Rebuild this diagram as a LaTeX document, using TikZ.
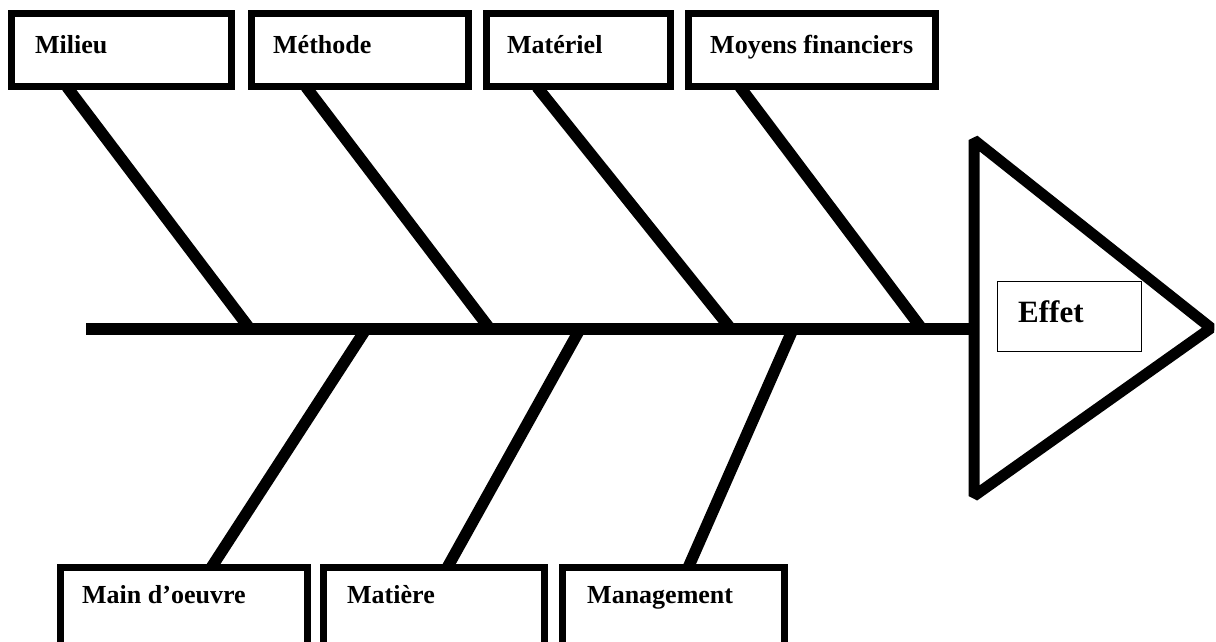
\documentclass[tikz,border=0pt]{standalone}
\usepackage{fontspec}
\setmainfont{Liberation Serif}
\begin{document}
\begin{tikzpicture}[x=1pt,y=-1pt,
  catbox/.style={draw=black, line width=7pt, rectangle, inner sep=0pt, fill=white},
  effbox/.style={draw=black, line width=1.3pt, rectangle, inner sep=0pt, fill=white},
  lbl/.style={anchor=base west, inner sep=0pt, font=\bfseries\fontsize{26}{30}\selectfont},
  efflbl/.style={anchor=base west, inner sep=0pt, font=\bfseries\fontsize{31}{36}\selectfont},
  bone/.style={line width=11.5pt, line cap=butt},
  spineline/.style={line width=12pt, line cap=butt},
  headline/.style={line width=11pt, line cap=butt, line join=bevel}]
\useasboundingbox (0,0) rectangle (1216,641);
\clip (0,0) rectangle (1216,641);
\fill[white] (0,0) rectangle (1216,641);

% spine and head
\coordinate (tail) at (86,329);
\coordinate (headbase) at (974,329);
\coordinate (htop) at (974,140);
\coordinate (hbot) at (974,496);
\coordinate (apex) at (1211,328);
\draw[spineline] (tail) -- (headbase);
\draw[headline] (htop) -- (apex) -- (hbot) -- cycle;

% bones junctions on the spine
\coordinate (j1) at (250,329);
\coordinate (j2) at (490,329);
\coordinate (j3) at (731,329);
\coordinate (j4) at (922,329);
\coordinate (k1) at (366,329);
\coordinate (k2) at (580,329);
\coordinate (k3) at (793,329);
% bone ends at the boxes
\coordinate (t1) at (67,87);
\coordinate (t2) at (306,87);
\coordinate (t3) at (537,87);
\coordinate (t4) at (740,87);
\coordinate (b1) at (211,568);
\coordinate (b2) at (447,568);
\coordinate (b3) at (688,568);

\draw[bone] (t1) -- (j1);
\draw[bone] (t2) -- (j2);
\draw[bone] (t3) -- (j3);
\draw[bone] (t4) -- (j4);
\draw[bone] (k1) -- (b1);
\draw[bone] (k2) -- (b2);
\draw[bone] (k3) -- (b3);

% top boxes
\node[catbox, minimum width=220pt, minimum height=73pt] (milieu) at (121.5,50) {};
\node[catbox, minimum width=217pt, minimum height=73pt] (methode) at (360,50) {};
\node[catbox, minimum width=183.5pt, minimum height=73pt] (materiel) at (578.25,50) {};
\node[catbox, minimum width=246.5pt, minimum height=73pt] (moyens) at (811.75,50) {};
\node[lbl] (milieutxt) at (35,53) {Milieu};
\node[lbl] (methodetxt) at (273,53) {Méthode};
\node[lbl] (materieltxt) at (507,53) {Matériel};
\node[lbl] (moyenstxt) at (710,53) {Moyens financiers};

% bottom boxes
\node[catbox, minimum width=247pt, minimum height=93pt] (main) at (183.5,613.5) {};
\node[catbox, minimum width=220.5pt, minimum height=93pt] (matiere) at (433.75,613.5) {};
\node[catbox, minimum width=222pt, minimum height=93pt] (management) at (673.5,613.5) {};
\node[lbl] (maintxt) at (82,603) {Main d’oeuvre};
\node[lbl] (matieretxt) at (347,603) {Matière};
\node[lbl] (managementtxt) at (587,603) {Management};

% effect
\node[effbox, minimum width=144pt, minimum height=70pt] (effet) at (1069.5,316.5) {};
\node[efflbl] (effettxt) at (1018,322) {Effet};
\end{tikzpicture}
\end{document}
